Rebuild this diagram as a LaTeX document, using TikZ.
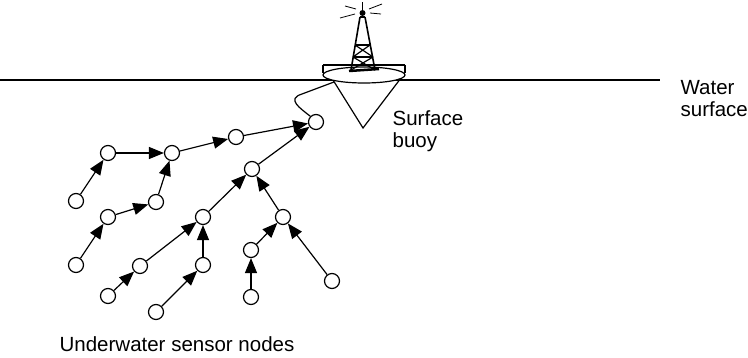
\documentclass[tikz,border=0pt]{standalone}
\usepackage{fontspec}
\setmainfont{Liberation Sans}
\usetikzlibrary{arrows.meta}

\begin{document}
\begin{tikzpicture}[x=1pt,y=-1pt,line width=1.2pt,
    sensor/.style={circle,draw,fill=white,minimum size=15pt,inner sep=0pt},
    hop/.style={-{Triangle[length=15pt,width=12pt]}},
    lbl/.style={font=\fontsize{20.5}{22}\selectfont,align=left,inner sep=0pt}]
  \useasboundingbox (0,0) rectangle (748,358);

  % water line
  \draw (0,80) -- (660,80);

  % buoy: cone, disc and mast
  \draw (333,80) -- (363,128) -- (401,78);
  \draw[fill=white] (364,75) ellipse [x radius=41,y radius=8];
  \draw (323,65) -- (405,65);
  \draw (323,65) -- (323,73) (405,65) -- (405,73);
  \draw[line width=2.5pt] (349,71) -- (379,69);
  \draw[line width=1.6pt] (351,70) -- (360,17) (375,70) -- (365,17);
  \draw (355,45) -- (370,45) (353,57) -- (373,57);
  \draw (355,45) -- (373,57) (370,45) -- (353,57);
  \draw (353,57) -- (375,70) (373,57) -- (351,70);
  \draw (360,17) -- (365,17);
  \fill (362.5,13) circle (3);
  \draw (362.5,13) -- (362.5,2);
  \draw[line width=0.8pt] (356,9) -- (345,6) (355,14) -- (340,18)
                          (369,9) -- (382,4) (370,13) -- (381,14);

  % sensor nodes
  \node[sensor] (sink) at (316,122) {};
  \node[sensor] (a) at (108,153) {};
  \node[sensor] (b) at (172,153) {};
  \node[sensor] (c) at (236,137) {};
  \node[sensor] (e) at (76,201) {};
  \node[sensor] (f) at (156,202) {};
  \node[sensor] (g) at (108,217) {};
  \node[sensor] (h) at (76,265) {};
  \node[sensor] (i) at (252,169) {};
  \node[sensor] (j) at (203,217) {};
  \node[sensor] (k) at (283,217) {};
  \node[sensor] (l) at (140,266) {};
  \node[sensor] (m) at (203,265) {};
  \node[sensor] (n) at (251,250) {};
  \node[sensor] (o) at (332,281) {};
  \node[sensor] (p) at (108,296) {};
  \node[sensor] (q) at (251,297) {};
  \node[sensor] (r) at (156,312) {};

  % routes towards the sink
  \draw[hop] (a) -- (b);
  \draw[hop] (b) -- (c);
  \draw[hop] (c) -- (sink);
  \draw[hop] (e) -- (a);
  \draw[hop] (f) -- (b);
  \draw[hop] (g) -- (f);
  \draw[hop] (h) -- (g);
  \draw[hop] (i) -- (sink);
  \draw[hop] (j) -- (i);
  \draw[hop] (k) -- (i);
  \draw[hop] (l) -- (j);
  \draw[hop] (m) -- (j);
  \draw[hop] (p) -- (l);
  \draw[hop] (r) -- (m);
  \draw[hop] (n) -- (k);
  \draw[hop] (q) -- (n);
  \draw[hop] (o) -- (k);

  % cable from the sink up to the buoy
  \coordinate (moor) at (334,82);
  \draw (sink.north west) .. controls (300,108) and (286,99) .. (302,94) -- (moor);

  \node[lbl,anchor=north west] (buoylbl) at (392,110.5) {Surface\\buoy};
  \node[lbl,anchor=north west] (waterlbl) at (680,79.5) {Water\\surface};
  \node[lbl,anchor=base] (nodeslbl) at (177,352) {Underwater sensor nodes};
\end{tikzpicture}
\end{document}
